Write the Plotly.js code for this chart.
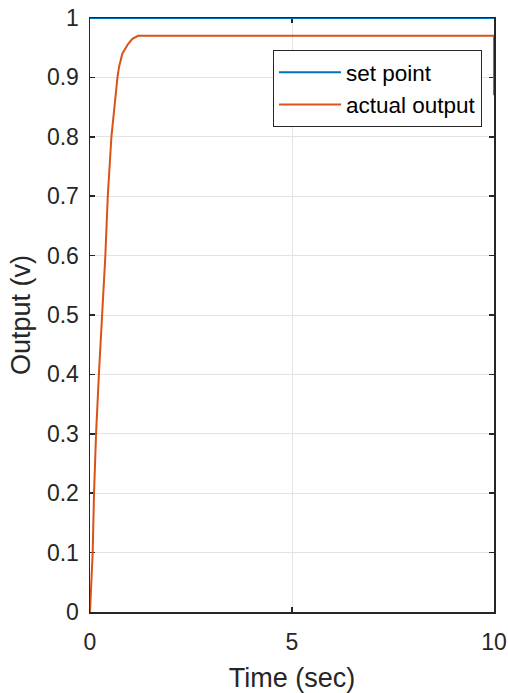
<!DOCTYPE html>
<html>
<head>
<meta charset="utf-8">
<script src="https://cdn.plot.ly/plotly-3.0.1.min.js"></script>
<style>html,body{margin:0;padding:0;background:#fff;}#chart{width:508px;height:693px;}</style>
</head>
<body>
<div id="chart"></div>
<script>
const setTime = [0, 10];
const setValue = [1, 1];
const outTime = [0, 0.066, 0.10, 0.15, 0.22, 0.30, 0.38, 0.44, 0.53, 0.68, 0.72, 0.80, 0.95, 1.05, 1.19, 10, 10];
const outValue = [0, 0.1, 0.2, 0.3, 0.4, 0.5, 0.6, 0.7, 0.8, 0.9, 0.918, 0.94, 0.957, 0.965, 0.970, 0.970, 0.87];
const xTicks = [0, 5, 10];
const yTicks = [0, 0.1, 0.2, 0.3, 0.4, 0.5, 0.6, 0.7, 0.8, 0.9, 1];
const yTickText = ['0', '0.1', '0.2', '0.3', '0.4', '0.5', '0.6', '0.7', '0.8', '0.9', '1'];

const font = 'Arial, "Liberation Sans", Helvetica, sans-serif';
const axisCommon = {
  showline: true, linecolor: '#262626', linewidth: 1.5, mirror: 'ticks',
  ticks: 'inside', ticklen: 5, tickwidth: 1.5, tickcolor: '#262626',
  showgrid: true, gridcolor: '#e3e3e3', gridwidth: 1, zeroline: false,
  tickfont: {family: font, size: 23, color: '#262626'},
  layer: 'below traces'
};
const data = [
  {x: setTime, y: setValue, type: 'scatter', mode: 'lines', name: 'set point',
   line: {color: '#0072BD', width: 2}, cliponaxis: false},
  {x: outTime, y: outValue, type: 'scatter', mode: 'lines', name: 'actual output',
   line: {color: '#D95319', width: 2}, cliponaxis: false}
];
const layout = {
  width: 508, height: 693,
  margin: {l: 90, r: 14, t: 18, b: 81},
  paper_bgcolor: '#ffffff', plot_bgcolor: '#ffffff',
  showlegend: true,
  legend: {x: 0.453, y: 0.946, xanchor: 'left', yanchor: 'top',
    bgcolor: '#ffffff', bordercolor: '#262626', borderwidth: 1,
    font: {family: font, size: 22.5, color: '#000000'}, itemwidth: 62},
  xaxis: Object.assign({}, axisCommon, {range: [0, 10], tickvals: xTicks, ticklabelstandoff: 9,
    title: {text: 'Time (sec)', font: {family: font, size: 27, color: '#262626'}, standoff: 14}}),
  yaxis: Object.assign({}, axisCommon, {range: [0, 1], tickvals: yTicks, ticktext: yTickText, ticklabelstandoff: 5,
    title: {text: 'Output (v)', font: {family: font, size: 27, color: '#262626'}, standoff: 8}})
};
Plotly.newPlot('chart', data, layout, {displayModeBar: false, staticPlot: true});
</script>
</body>
</html>
